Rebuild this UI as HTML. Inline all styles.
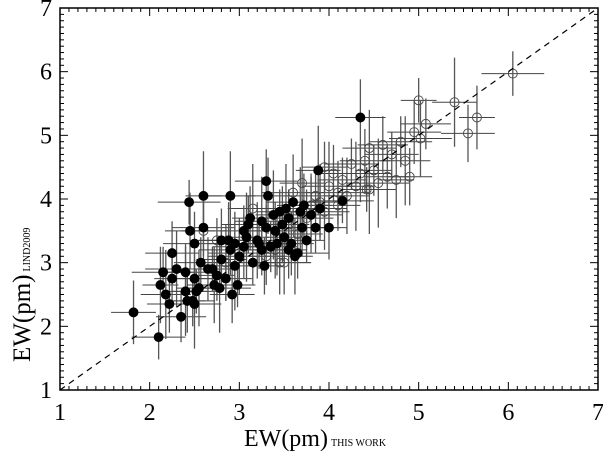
<!DOCTYPE html>
<html><head><meta charset="utf-8"><style>
html,body{margin:0;padding:0;background:#fff;}
svg{display:block;font-family:"Liberation Serif",serif;}
</style></head><body>
<svg id="chart" width="603" height="453" viewBox="0 0 603 453" xmlns="http://www.w3.org/2000/svg">
<g id="errs"></g>
<g id="pts"></g>
<g id="axes"></g>
</svg>
<script>
const xTicks=[1,2,3,4,5,6,7];
const yTicks=[1,2,3,4,5,6,7];
const filledX=[1.82,2.1,2.12,2.15,2.18,2.22,2.25,2.25,2.3,2.35,2.4,2.4,2.42,2.44,2.45,2.48,2.5,2.5,2.5,2.52,2.55,2.57,2.6,2.6,2.65,2.7,2.72,2.75,2.78,2.8,2.8,2.85,2.88,2.9,2.9,2.92,2.95,2.98,3.0,3.05,3.08,3.1,3.12,3.15,3.2,3.22,3.25,3.28,3.3,3.3,3.32,3.35,3.38,3.4,3.42,3.45,3.48,3.5,3.52,3.55,3.58,3.6,3.62,3.65,3.68,3.7,3.72,3.75,3.8,3.85,3.88,3.9,4.0,4.15,4.35,3.25,2.95,3.55,3.05];
const filledY=[2.22,1.83,2.65,2.85,2.5,2.35,3.15,2.75,2.9,2.15,2.55,2.85,2.4,3.95,3.5,2.4,2.35,2.75,3.3,2.55,2.6,3.0,4.05,3.55,2.9,2.9,2.65,2.8,2.6,3.05,3.35,2.75,3.35,3.2,4.05,2.5,3.3,2.65,3.1,3.5,3.4,3.6,3.7,3.0,3.35,3.3,3.65,2.95,4.28,3.55,4.05,3.25,3.75,3.5,3.3,3.8,3.6,3.4,3.85,3.7,3.3,3.95,3.1,3.15,3.8,3.55,3.9,3.35,3.75,3.55,4.45,3.85,3.55,3.97,5.28,3.2,2.95,3.2,3.25];
const openX=[2.6,2.75,2.85,3.0,3.15,3.4,3.5,3.55,3.6,3.65,3.7,3.75,3.8,3.85,3.9,3.95,4.0,4.05,4.1,4.15,4.2,4.25,4.3,4.35,4.4,4.42,4.45,4.5,4.55,4.6,4.65,4.7,4.75,4.8,4.85,4.9,4.95,5.0,5.02,5.08,5.4,5.55,5.65,6.05,3.95,4.1,4.45,3.3,3.45];
const openY=[3.5,3.35,3.0,3.15,3.85,3.2,3.0,3.6,4.1,3.45,4.25,3.7,3.9,4.05,3.95,4.5,4.2,4.4,4.1,4.3,4.05,4.55,4.2,4.4,4.6,4.15,4.8,4.45,4.25,4.85,4.35,4.7,4.3,4.9,4.6,4.35,5.05,5.55,4.95,5.18,5.52,5.03,5.28,5.97,3.8,3.9,4.15,3.1,3.0];
const errXList=[0.25,0.3,0.2,0.35,0.28];
const errYList=[0.5,0.35,0.6,0.4,0.7,0.45];

const L=60,R=598,T=8,B=390;
const sx=v=>L+(v-1)/6*(R-L);
const sy=v=>B-(v-1)/6*(B-T);
const NS="http://www.w3.org/2000/svg";
function mk(tag,parent,attrs){const e=document.createElementNS(NS,tag);for(const k in attrs)e.setAttribute(k,attrs[k]);parent.appendChild(e);return e;}
const errs=document.getElementById('errs'),pts=document.getElementById('pts'),axes=document.getElementById('axes');

function drawSeries(xs,ys,filled,name){
  xs.forEach((x,i)=>{
    const y=ys[i],ex=errXList[i%errXList.length],ey=errYList[i%errYList.length];
    const h=mk('line',errs,{x1:sx(x-ex),x2:sx(x+ex),y1:sy(y),y2:sy(y),stroke:'#444','stroke-width':1});
    
    
    const v=mk('line',errs,{x1:sx(x),x2:sx(x),y1:sy(y-ey),y2:sy(y+ey),stroke:'#555','stroke-width':1.3});
    
    
    const c=mk('circle',pts,{cx:sx(x),cy:sy(y),r:4.5,fill:filled?'#000':'none',stroke:filled?'#000':'#444','stroke-width':0.9});
    
    
  });
}
drawSeries(openX,openY,false,'open');
drawSeries(filledX,filledY,true,'filled');

const d=mk('line',axes,{x1:sx(1),y1:sy(1),x2:sx(7),y2:sy(7),stroke:'#000','stroke-width':1.2,'stroke-dasharray':'6,5'});



const fr=mk('rect',axes,{x:L,y:T,width:R-L,height:B-T,fill:'none',stroke:'#000','stroke-width':1.5});



for(let k=10;k<=70;k++){
  const v=k/10,major=k%10===0,len=major?8:4;
  const X=sx(v),Y=sy(v);
  mk('line',axes,{x1:X,x2:X,y1:B,y2:B-len,stroke:'#000','stroke-width':1});
  mk('line',axes,{x1:X,x2:X,y1:T,y2:T+len,stroke:'#000','stroke-width':1});
  mk('line',axes,{x1:L,x2:L+len,y1:Y,y2:Y,stroke:'#000','stroke-width':1});
  mk('line',axes,{x1:R,x2:R-len,y1:Y,y2:Y,stroke:'#000','stroke-width':1});
}
xTicks.forEach(v=>{
  const t=mk('text',axes,{x:sx(v),y:420,'text-anchor':'middle','font-size':24});
  t.textContent=v;
  
  
});
yTicks.forEach(v=>{
  const t=mk('text',axes,{x:52,y:sy(v)+8,'text-anchor':'end','font-size':24});
  t.textContent=v;
  
  
});
</script>
<svg style="position:absolute;left:0;top:0" width="603" height="453" xmlns="http://www.w3.org/2000/svg">
<text x="244" y="446" font-family="Liberation Serif, serif" font-size="24">EW(pm)<tspan font-size="10" dx="3">THIS WORK</tspan></text>
<text transform="translate(30,362) rotate(-90)" font-family="Liberation Serif, serif" font-size="25">EW(pm)<tspan font-size="10" dx="3">LIND2009</tspan></text>
</svg>
</body></html>
